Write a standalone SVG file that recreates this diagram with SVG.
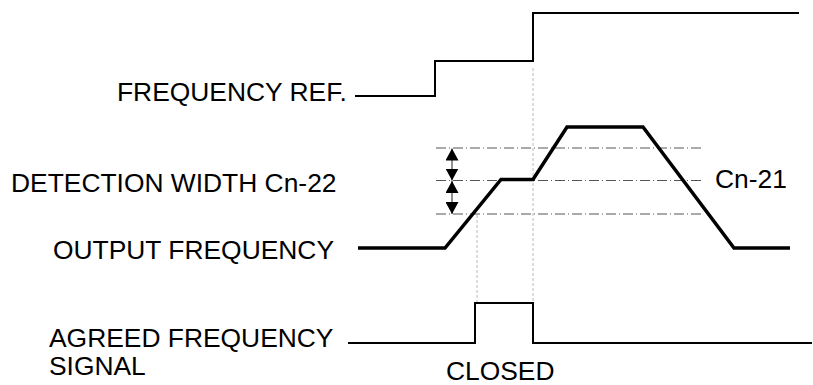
<svg xmlns="http://www.w3.org/2000/svg" width="813" height="385" viewBox="0 0 813 385">
<style>
text{font-family:"Liberation Sans",Arial,sans-serif;font-size:26.4px;fill:#000}
.sig{fill:none;stroke:#000;stroke-width:2}
.out{fill:none;stroke:#000;stroke-width:3.5;stroke-linejoin:miter}
.dd{fill:none;stroke:#555;stroke-width:1;stroke-dasharray:10 3 1 3}
.guide{fill:none;stroke:#bbb;stroke-width:1;stroke-dasharray:3 2}
.shaft{stroke:#444;stroke-width:1.2}
</style>
<defs>
<marker id="ah" viewBox="0 0 12 13" refX="12" refY="6.5" markerWidth="12" markerHeight="13" markerUnits="userSpaceOnUse" orient="auto-start-reverse"><path d="M0,0 L12,6.5 L0,13 Z" fill="#000"/></marker>
</defs>
<g id="labels">
<text x="117" y="101">FREQUENCY REF.</text>
<text x="11" y="192">DETECTION WIDTH Cn-22</text>
<text x="53" y="259">OUTPUT FREQUENCY</text>
<text x="715" y="188">Cn-21</text>
<text x="49" y="347">AGREED FREQUENCY</text>
<text x="49" y="375">SIGNAL</text>
<text x="446" y="380">CLOSED</text>
</g>
<g id="guides">
<line class="dd" x1="436" y1="148" x2="703" y2="148"/>
<line class="dd" x1="436" y1="180.5" x2="703" y2="180.5"/>
<line class="dd" x1="436" y1="214" x2="703" y2="214"/>
<line class="guide" x1="477" y1="215" x2="477" y2="303"/>
<line class="guide" x1="533" y1="68" x2="533" y2="303"/>
</g>
<g id="frequency-ref">
<polyline class="sig" points="355,96 435,96 435,61 533,61 533,13 799,13"/>
</g>
<g id="output-frequency">
<polyline class="out" points="358,248 445,248 501,179.5 533,179.5 567,127 643,127 734,248 790,248"/>
</g>
<g id="detection-arrows">
<line class="shaft" x1="452" y1="148.5" x2="452" y2="180.5" marker-start="url(#ah)" marker-end="url(#ah)"/>
<line class="shaft" x1="452" y1="181" x2="452" y2="214" marker-start="url(#ah)" marker-end="url(#ah)"/>
</g>
<g id="agreed-signal">
<polyline class="sig" points="348,343 475,343 475,303 533,303 533,343 812,343"/>
</g>
</svg>
